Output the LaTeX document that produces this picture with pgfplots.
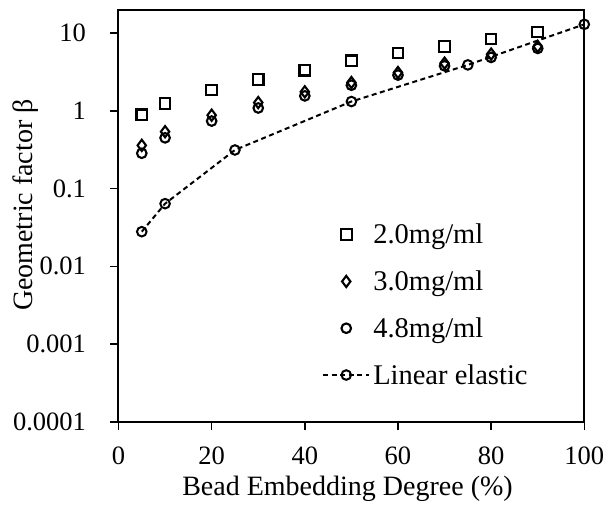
\documentclass[border=0pt]{standalone}
\usepackage{pgfplots}
\pgfplotsset{compat=1.18}
\usepackage{fontspec}
\setmainfont{Liberation Serif}
\newcommand{\ft}{\fontsize{26.5}{31}\selectfont}
\newcommand{\fl}{\fontsize{28}{33}\selectfont}
\newcommand{\fg}{\fontsize{28.5}{33}\selectfont}
\begin{document}
\begin{tikzpicture}
\begin{axis}[
  at={(0pt,0pt)}, anchor=south west,
  scale only axis, width=465.8pt, height=411.2pt,
  ymode=log, log basis y=10,
  xmin=0, xmax=100, ymin=0.0001, ymax=19.6,
  xtick={0,20,40,60,80,100},
  ytick={0.0001,0.001,0.01,0.1,1,10},
  yticklabels={0.0001,0.001,0.01,0.1,1,10},
  minor tick num=0, minor ytick={},
  /pgf/number format/assume math mode=true,
  tick align=outside, major tick length=8pt,
  xtick pos=bottom, ytick pos=left,
  axis line style={line width=2pt},
  every tick/.style={black, line width=1.6pt},
  tick label style={font=\ft},
  xticklabel style={yshift=-14pt},
  yticklabel style={xshift=-21pt},
  xlabel={Bead Embedding Degree (\%)},
  ylabel={Geometric factor β},
  every axis x label/.style={at={(axis description cs:0.4917,0)}, anchor=base, yshift=-73.3pt, font=\fl},
  every axis y label/.style={at={(axis description cs:-0.1986,0.5268)}, anchor=center, rotate=90, font=\fl},
  clip=false,
  legend style={draw=none, fill=none, font=\fg, at={(0.437,0.486)}, anchor=north west,
    inner sep=0pt, row sep=21.5pt, column sep=1pt, legend cell align=left},
  legend image code/.code={\draw[mark repeat=2,mark phase=2,#1] plot coordinates {(0pt,0pt)(23pt,0pt)(46pt,0pt)};},
]
\addplot[only marks, mark=square, mark size=5.3pt, line width=2.1pt] coordinates {
(5,0.89) (10,1.25) (20,1.85) (30,2.54) (40,3.34) (50,4.41) (60,5.54) (70,6.76) (80,8.4) (90,10.4)};
\addlegendentry{2.0mg/ml}
\addplot[only marks, mark=diamond, mark size=5.6pt, line width=2.1pt] coordinates {
(5,0.36) (10,0.54) (20,0.88) (30,1.28) (40,1.76) (50,2.32) (60,3.12) (70,4.12) (80,5.38) (90,6.76)};
\addlegendentry{3.0mg/ml}
\addplot[only marks, mark=o, mark size=4.8pt, line width=2.1pt] coordinates {
(5,0.285) (10,0.45) (20,0.74) (30,1.09) (40,1.56) (50,2.14) (60,2.89) (70,3.8) (80,4.88) (90,6.37)};
\addlegendentry{4.8mg/ml}
\addplot[mark=o, mark size=4.8pt, line width=2pt, dash pattern=on 5pt off 3.5pt, mark options={solid}] coordinates {
(5,0.0279) (10,0.064) (25,0.314) (50,1.32) (75,3.91) (100,13.0)};
\addlegendentry{Linear elastic}
\end{axis}
\pgfresetboundingbox
\path (-118.5pt,-86.3pt) rectangle (489.5pt,421.7pt);
\end{tikzpicture}
\end{document}
